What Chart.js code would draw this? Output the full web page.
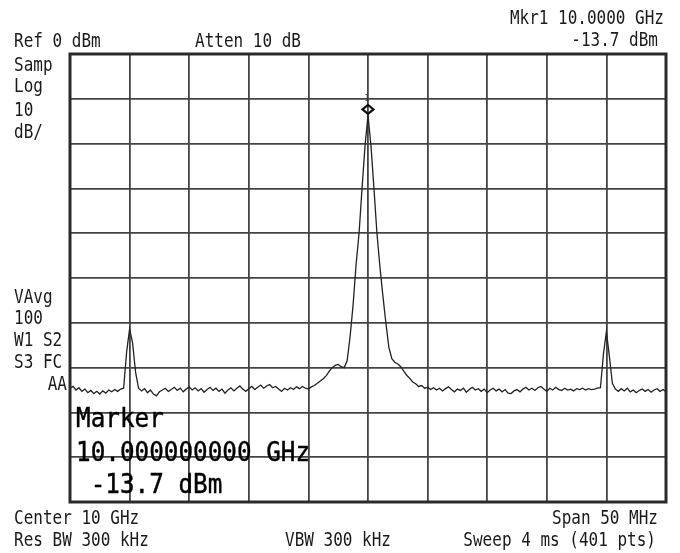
<!DOCTYPE html>
<html>
<head>
<meta charset="utf-8">
<script src="https://cdn.jsdelivr.net/npm/chart.js@4.4.1/dist/chart.umd.min.js"></script>
<style>
  html, body { margin: 0; padding: 0; background: #fff; }
  #wrap { position: relative; width: 680px; height: 553px; overflow: hidden; background: #fff; }
  #scope { position: absolute; left: 0; top: 0; }
  .lbl {
    position: absolute; white-space: pre; color: #1a1a1a; line-height: 1;
    font-family: 'DejaVu Sans Mono', monospace;
  }
</style>
</head>
<body>
<div id="wrap"><canvas id="scope" width="680" height="553"></canvas></div>
<script>
// sweep settings (center 10 GHz, span 50 MHz)
const FREQ_START_MHZ = 9975;
const FREQ_STOP_MHZ = 10025;
const FREQ_STEP_MHZ = 0.25;
const MHZ_PER_DIV = 5;
const REF_LEVEL_DBM = 0;
const BOTTOM_LEVEL_DBM = -100;
const DB_PER_DIV = 10;

// trace levels, one per sweep point (dBm)
const TRACE_DBM = [
    -74.6, -74.2, -75.0, -74.5, -75.3, -74.8, -75.6, -75.1, -75.8, -75.3,
    -75.9, -75.2, -75.7, -75.0, -75.4, -74.9, -75.3, -74.8,
    // spur at 9980 MHz
    -74.6, -66.5, -61.4, -64.5, -71.0, -74.6,
    -75.2, -74.7, -75.6, -75.0, -75.9, -76.3, -75.4, -75.0, -74.6, -75.3,
    -74.9, -74.4, -75.1, -74.6, -75.4, -74.8, -74.3, -75.0, -74.5, -75.2,
    -74.7, -75.5, -74.9, -74.4, -75.1, -74.6, -75.3, -74.8, -75.7, -75.0,
    -74.5, -75.2, -74.6, -74.1, -74.8, -75.3, -74.7, -74.2, -74.9, -74.4,
    -73.9, -74.6, -74.1, -73.8, -74.5, -74.2, -74.8, -75.3, -74.6, -75.0,
    -74.5, -74.9, -74.3, -74.7, -74.2, -74.6,
    // carrier at 10 GHz
    -74.8, -74.3, -74.0, -73.5, -73.0, -72.5, -71.8, -70.8, -70.0, -69.5,
    -69.3, -69.8, -70.0, -68.5, -63.0, -56.0, -47.0, -40.0, -30.0, -20.5,
    -13.7,
    -20.5, -30.0, -40.0, -47.5, -54.0, -60.0, -65.5, -68.0, -68.8, -69.2,
    -69.8, -70.8, -71.7, -72.4, -73.2, -73.6, -74.2, -74.0, -74.6, -74.4,
    -74.9, -74.5, -75.0, -74.6, -75.2, -74.7, -74.3, -74.9, -75.4, -74.8,
    -75.1, -74.6, -75.5, -74.9, -74.4, -75.0, -74.7, -75.3, -74.8, -75.6,
    -75.0, -74.6, -75.2, -74.8, -75.4, -74.9, -75.7, -75.8, -75.2, -74.9,
    -75.4, -74.8, -74.4, -75.0, -74.6, -75.1, -74.5, -74.2, -74.8, -75.3,
    -74.6, -75.0, -74.4, -74.9, -75.1, -74.6, -75.0, -74.8, -75.2, -74.7,
    -74.9, -74.6, -75.0, -74.7, -74.9, -74.8, -74.6,
    // spur at 10020 MHz
    -74.5, -67.0, -62.0, -67.5, -73.5,
    -74.8, -75.3, -74.7, -75.2, -74.6, -75.4, -75.0, -75.6, -75.1, -74.8,
    -75.3, -74.9, -75.5, -75.0, -74.7, -75.3, -74.9, -75.4
];

const MARKER_FREQ_MHZ = 10000;
const MARKER_DBM = -13.7;

// annotation texts around the screen
const LABELS = [
    // text, x, baseline, size, align, stretch
    ['Ref 0 dBm', 14, 48, 16, 'left', 1.22],
    ['Atten 10 dB', 195, 48, 16, 'left', 1.22],
    ['Mkr1 10.0000 GHz', 664, 25, 16, 'right', 1.22],
    ['-13.7 dBm', 658, 47, 16, 'right', 1.22],
    ['Samp', 14, 72, 16, 'left', 1.22],
    ['Log', 14, 93, 16, 'left', 1.22],
    ['10', 14, 117, 16, 'left', 1.22],
    ['dB/', 14, 139, 16, 'left', 1.22],
    ['VAvg', 14, 304, 16, 'left', 1.22],
    ['100', 14, 325, 16, 'left', 1.22],
    ['W1 S2', 14, 347, 16, 'left', 1.22],
    ['S3 FC', 14, 369, 16, 'left', 1.22],
    ['AA', 67, 391, 16, 'right', 1.22],
    ['Marker', 76, 428, 24.3, 'left', 1.08],
    ['10.000000000 GHz', 76, 462, 24.3, 'left', 1.08],
    [' -13.7 dBm', 76, 494, 24.3, 'left', 1.08],
    ['Center 10 GHz', 14, 525, 16, 'left', 1.22],
    ['Span 50 MHz', 658, 525, 16, 'right', 1.22],
    ['Res BW 300 kHz', 14, 547, 16, 'left', 1.22],
    ['VBW 300 kHz', 285, 547, 16, 'left', 1.22],
    ['Sweep 4 ms (401 pts)', 656, 547, 16, 'right', 1.22],
];

const wrap = document.getElementById('wrap');
LABELS.forEach(([text, x, base, size, align, stretch]) => {
    const el = document.createElement('div');
    el.className = 'lbl';
    el.textContent = text;
    el.style.fontSize = size + 'px';
    el.style.top = (base - 0.846 * size) + 'px';
    if (size > 20) {
        el.style.color = '#000';
        el.style.webkitTextStroke = '0.4px #000';
    }
    if (align === 'right') {
        el.style.right = (680 - x) + 'px';
        el.style.transformOrigin = '100% 0.846em';
    } else {
        el.style.left = x + 'px';
        el.style.transformOrigin = '0 0.846em';
    }
    el.style.transform = 'scaleY(' + stretch + ')';
    wrap.appendChild(el);
});

const tracePoints = TRACE_DBM.map((v, i) => ({ x: FREQ_START_MHZ + i * FREQ_STEP_MHZ, y: v }));

// outer frame + marker diamond
const screenPlugin = {
    id: 'screen',
    afterDatasetsDraw(chart) {
        const { ctx, chartArea, scales } = chart;
        ctx.save();
        ctx.strokeStyle = '#2a2a2a';
        ctx.lineWidth = 3;
        ctx.strokeRect(chartArea.left, chartArea.top, chartArea.right - chartArea.left, chartArea.bottom - chartArea.top);

        const mx = scales.x.getPixelForValue(MARKER_FREQ_MHZ);
        const my = scales.y.getPixelForValue(MARKER_DBM) - 6;
        ctx.beginPath();
        ctx.moveTo(mx - 5.5, my);
        ctx.lineTo(mx, my - 4.5);
        ctx.lineTo(mx + 5.5, my);
        ctx.lineTo(mx, my + 4.5);
        ctx.closePath();
        ctx.lineWidth = 2.2;
        ctx.strokeStyle = '#111';
        ctx.stroke();
        ctx.fillStyle = '#333';
        ctx.font = '8px "DejaVu Sans Mono"';
        ctx.textAlign = 'center';
        ctx.fillText('1', mx - 1, my - 8);
        ctx.restore();
    }
};

new Chart(document.getElementById('scope'), {
    type: 'line',
    data: {
        datasets: [{
            data: tracePoints,
            borderColor: '#222',
            borderWidth: 1.3,
            pointRadius: 0,
            tension: 0,
            fill: false,
        }]
    },
    options: {
        responsive: false,
        animation: false,
        layout: { padding: { left: 70, top: 54, right: 14, bottom: 51 } },
        plugins: { legend: { display: false }, tooltip: { enabled: false } },
        scales: {
            x: {
                type: 'linear',
                min: FREQ_START_MHZ,
                max: FREQ_STOP_MHZ,
                ticks: { display: false, stepSize: MHZ_PER_DIV },
                grid: { color: '#444', lineWidth: 1.8, drawTicks: false },
                border: { display: false },
            },
            y: {
                min: BOTTOM_LEVEL_DBM,
                max: REF_LEVEL_DBM,
                ticks: { display: false, stepSize: DB_PER_DIV },
                grid: { color: '#444', lineWidth: 1.8, drawTicks: false },
                border: { display: false },
            }
        }
    },
    plugins: [screenPlugin]
});
</script>
</body>
</html>
